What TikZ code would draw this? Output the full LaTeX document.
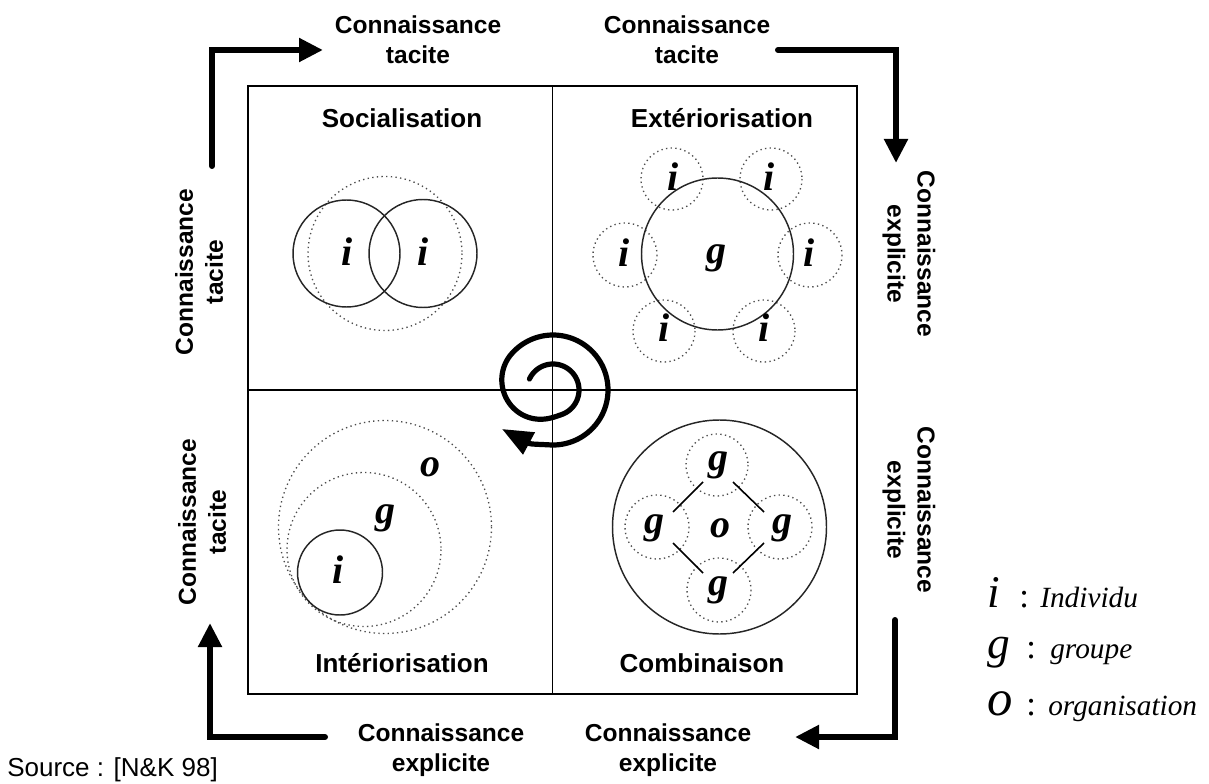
\documentclass[tikz,border=0pt]{standalone}
\usepackage{fontspec}
\setmainfont{Liberation Serif}
\newfontfamily\arialf{Liberation Sans}
\usetikzlibrary{arrows.meta}
\begin{document}
\begin{tikzpicture}[x=0.75pt,y=-0.75pt,
  lbl/.style={font=\arialf\bfseries\fontsize{18.4}{22.5}\selectfont,align=center,inner sep=0pt},
  ttl/.style={font=\arialf\bfseries\fontsize{19.5}{23}\selectfont,inner sep=0pt},
  let/.style={font=\bfseries\itshape\fontsize{30}{30}\selectfont,inner sep=0pt},
  dotc/.style={line width=1pt,dash pattern=on 1pt off 2.5pt,black!70},
  solc/.style={line width=1.1pt,black!85},
  bigarrow/.style={line width=4.5pt,line cap=round,line join=miter,-{Triangle[length=18pt,width=17pt]}},
  spiral/.style={line width=3.9pt,line cap=round,-{Triangle[length=23pt,width=18pt]}},
  leg/.style={font=\itshape\fontsize{22}{24}\selectfont,inner sep=0pt,anchor=base west},
  legl/.style={font=\itshape\fontsize{34}{34}\selectfont,inner sep=0pt,anchor=base west},
  legc/.style={font=\fontsize{26}{26}\selectfont,inner sep=0pt,anchor=base west},
  declare function={ss(\t)=min(1,max(0,(\t-430)/150)); sr(\t)=26+29*ss(\t)*ss(\t)*(3-2*ss(\t));}
]
\useasboundingbox (0,0) rectangle (1209,784);
% frame
\draw[line width=1.2pt] (248,86) rectangle (857,694);
\draw[line width=1.2pt] (552.5,86) -- (552.5,694);
\draw[line width=1.2pt] (248,390) -- (857,390);
% titles
\node[ttl] (tS) at (402,118) {Socialisation};
\node[ttl] (tE) at (722,118) {Extériorisation};
\node[ttl] (tI) at (402,663) {Intériorisation};
\node[ttl] (tC) at (702,663) {Combinaison};
% outer labels
\node[lbl] (ltl) at (418,40) {Connaissance\\tacite};
\node[lbl] (ltr) at (687,40) {Connaissance\\tacite};
\node[lbl] (lbl1) at (441,750) {Connaissance\\explicite};
\node[lbl] (lbr) at (668,750) {Connaissance\\explicite};
\node[lbl,rotate=90] (llu) at (199,272) {Connaissance\\tacite};
\node[lbl,rotate=90] (lll) at (202,522) {Connaissance\\tacite};
\node[lbl,rotate=-90] (lru) at (909,254) {Connaissance\\explicite};
\node[lbl,rotate=-90] (lrl) at (909,510) {Connaissance\\explicite};
% big L arrows
\coordinate (a1s) at (212,166); \coordinate (a1c) at (212,50); \coordinate (a1e) at (323,50);
\coordinate (a2s) at (778,50); \coordinate (a2c) at (896,50); \coordinate (a2e) at (896,163);
\coordinate (a3s) at (895,620); \coordinate (a3c) at (895,737); \coordinate (a3e) at (795,737);
\coordinate (a4s) at (325,737); \coordinate (a4c) at (210,737); \coordinate (a4e) at (210,623);
\draw[bigarrow] (a1s) -- (a1c) -- (a1e);
\draw[bigarrow] (a2s) -- (a2c) -- (a2e);
\draw[bigarrow] (a3s) -- (a3c) -- (a3e);
\draw[bigarrow] (a4s) -- (a4c) -- (a4e);
% spiral
\coordinate (sp) at (502,429);
\draw[spiral] plot[domain=205:815,samples=220,smooth,variable=\t] ({553+sr(\t)*cos(\t)},{390+sr(\t)*sin(\t)}) .. controls (530,444) .. (sp);
% Socialisation
\draw[dotc] (385,253.5) circle[radius=77];
\draw[solc] (346.5,253.5) circle[radius=53.5];
\draw[solc] (423,253.5) circle[radius=54];
\node[let] (s1) at (347,252) {i};
\node[let] (s2) at (423,252) {i};
% Exteriorisation
\draw[dotc] (672,179) circle[radius=31];
\draw[dotc] (771,179) circle[radius=31];
\draw[dotc] (625,255) circle[radius=32];
\draw[dotc] (810,255) circle[radius=32];
\draw[dotc] (664,331) circle[radius=31];
\draw[dotc] (764,331) circle[radius=31];
\draw[solc] (717.5,254) circle[radius=76];
\node[let] (e1) at (673,177) {i};
\node[let] (e2) at (769,177) {i};
\node[let] (e3) at (624,253) {i};
\node[let] (e4) at (809,253) {i};
\node[let] (e5) at (664,328) {i};
\node[let] (e6) at (764,328) {i};
\node[let] (eg) at (716,258) {g};
% Interiorisation
\draw[dotc] (385,527) circle[radius=106.5];
\draw[dotc] (364,549.5) circle[radius=77];
\draw[solc] (340,572.5) circle[radius=42.5];
\node[let] (io) at (430,467) {o};
\node[let] (ig) at (385,518) {g};
\node[let] (ii) at (338,570) {i};
% Combinaison
\draw[solc] (719.5,527) circle[radius=107];
\draw[dotc] (717,465) circle[radius=31];
\draw[dotc] (657,527) circle[radius=32];
\draw[dotc] (780,527) circle[radius=32];
\draw[dotc] (719,590) circle[radius=32];
\node[let] (cgt) at (718,465) {g};
\node[let] (cgl) at (654,528) {g};
\node[let] (cgr) at (782,528) {g};
\node[let] (cgb) at (718,590) {g};
\node[let] (co) at (720,528) {o};
\draw[line width=1.2pt] (673,512) -- (703,482);
\draw[line width=1.2pt] (733,482) -- (764,512);
\draw[line width=1.2pt] (673,543) -- (703,573);
\draw[line width=1.2pt] (733,573) -- (764,543);
% legend
\node[legl] (Li) at (987,607) {i};
\node[legc] (Lic) at (1019,607) {:};
\node[leg] (Lit) at (1040,607) {Individu};
\node[legl] (Lg) at (987,658) {g};
\node[legc] (Lgc) at (1026,658) {:};
\node[leg] (Lgt) at (1050,658) {groupe};
\node[legl,font=\itshape\fontsize{38}{38}\selectfont] (Lo) at (987,715) {o};
\node[legc] (Loc) at (1026,715) {:};
\node[leg] (Lot) at (1048,715) {organisation};
% source
\node[font=\arialf\fontsize{19.5}{22}\selectfont,inner sep=0pt,anchor=west] (src) at (7,770) {Source : [N\&K 98]};
\end{tikzpicture}
\end{document}
